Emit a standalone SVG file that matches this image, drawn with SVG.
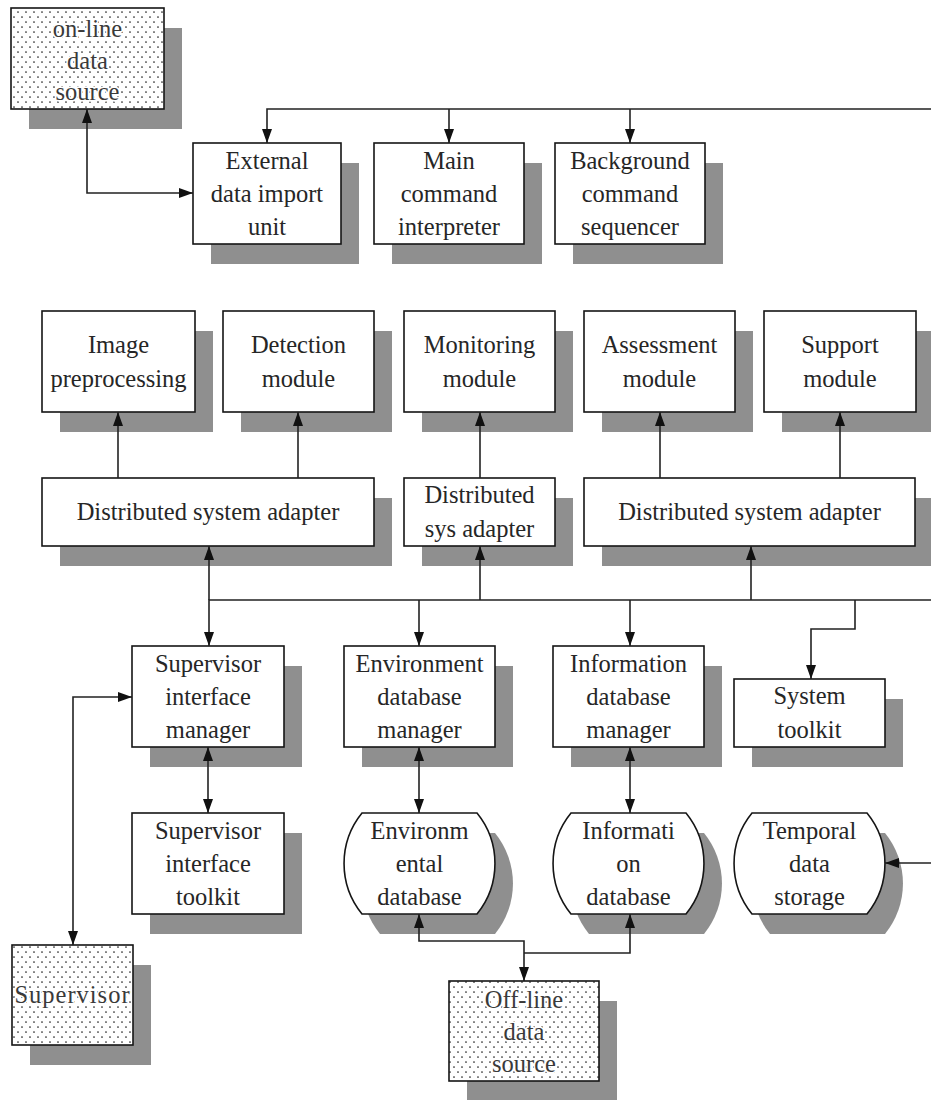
<svg xmlns="http://www.w3.org/2000/svg" width="931" height="1100" viewBox="0 0 931 1100">
  <defs>
    <style>
      .shadow { fill: #8f8f8f; }
      .box { fill: #ffffff; stroke: #151515; stroke-width: 1.6; }
      .dotbox { fill: url(#dots); stroke: #151515; stroke-width: 1.6; }
      text { font-family: "Liberation Serif", "Times New Roman", serif; font-size: 24.5px; fill: #262626; text-anchor: middle; }
      text.dtxt { fill: #3a3a3a; stroke: #ffffff; stroke-width: 3px; paint-order: stroke; stroke-linejoin: round; }
      .wire { fill: none; stroke: #222222; stroke-width: 1.6; }
      .to { marker-end: url(#arrow); }
      .both { marker-start: url(#arrow); marker-end: url(#arrow); }
      .from { marker-start: url(#arrow); }
    </style>
    <pattern id="dots" width="8" height="10" patternUnits="userSpaceOnUse">
      <rect width="8" height="10" fill="#ffffff"/>
      <circle cx="2" cy="2" r="0.85" fill="#222"/>
      <circle cx="6" cy="7" r="0.85" fill="#222"/>
    </pattern>
    <marker id="arrow" viewBox="0 0 14 10" refX="14" refY="5" markerWidth="14" markerHeight="10" markerUnits="userSpaceOnUse" orient="auto-start-reverse">
      <path d="M0,0 L14,5 L0,10 Z" fill="#111111"/>
    </marker>
  </defs>

  <rect width="931" height="1100" fill="#ffffff"/>

  <!-- external sources -->
  <g id="online-source">
    <rect class="shadow" x="29" y="28" width="153" height="101"/>
    <rect class="dotbox" x="11" y="8" width="153" height="101"/>
    <text class="dtxt" x="87.5" y="37">on-line</text>
    <text class="dtxt" x="87.5" y="69">data</text>
    <text class="dtxt" x="87.5" y="100">source</text>
  </g>

  <!-- command layer -->
  <g id="external-import">
    <rect class="shadow" x="211" y="163" width="148" height="101"/>
    <rect class="box" x="193" y="143" width="148" height="101"/>
    <text x="267" y="169">External</text>
    <text x="267" y="202">data import</text>
    <text x="267" y="235">unit</text>
  </g>
  <g id="main-interpreter">
    <rect class="shadow" x="392" y="163" width="150" height="101"/>
    <rect class="box" x="374" y="143" width="150" height="101"/>
    <text x="449" y="169">Main</text>
    <text x="449" y="202">command</text>
    <text x="449" y="235">interpreter</text>
  </g>
  <g id="background-sequencer">
    <rect class="shadow" x="573" y="163" width="150" height="101"/>
    <rect class="box" x="555" y="143" width="150" height="101"/>
    <text x="630" y="169">Background</text>
    <text x="630" y="202">command</text>
    <text x="630" y="235">sequencer</text>
  </g>

  <!-- processing modules -->
  <g id="image-preprocessing">
    <rect class="shadow" x="60" y="331" width="153" height="101"/>
    <rect class="box" x="42" y="311" width="153" height="101"/>
    <text x="118.5" y="353">Image</text>
    <text x="118.5" y="387">preprocessing</text>
  </g>
  <g id="detection-module">
    <rect class="shadow" x="241" y="331" width="151" height="101"/>
    <rect class="box" x="223" y="311" width="151" height="101"/>
    <text x="298.5" y="353">Detection</text>
    <text x="298.5" y="387">module</text>
  </g>
  <g id="monitoring-module">
    <rect class="shadow" x="422" y="331" width="151" height="101"/>
    <rect class="box" x="404" y="311" width="151" height="101"/>
    <text x="479.5" y="353">Monitoring</text>
    <text x="479.5" y="387">module</text>
  </g>
  <g id="assessment-module">
    <rect class="shadow" x="602" y="331" width="151" height="101"/>
    <rect class="box" x="584" y="311" width="151" height="101"/>
    <text x="659.5" y="353">Assessment</text>
    <text x="659.5" y="387">module</text>
  </g>
  <g id="support-module">
    <rect class="shadow" x="782" y="331" width="152" height="101"/>
    <rect class="box" x="764" y="311" width="152" height="101"/>
    <text x="840" y="353">Support</text>
    <text x="840" y="387">module</text>
  </g>

  <!-- adapters -->
  <g id="adapter-left">
    <rect class="shadow" x="60" y="498" width="332" height="68"/>
    <rect class="box" x="42" y="478" width="332" height="68"/>
    <text x="208" y="520">Distributed system adapter</text>
  </g>
  <g id="adapter-middle">
    <rect class="shadow" x="422" y="498" width="151" height="68"/>
    <rect class="box" x="404" y="478" width="151" height="68"/>
    <text x="479.5" y="503">Distributed</text>
    <text x="479.5" y="537">sys adapter</text>
  </g>
  <g id="adapter-right">
    <rect class="shadow" x="602" y="498" width="331" height="68"/>
    <rect class="box" x="584" y="478" width="331" height="68"/>
    <text x="749.5" y="520">Distributed system adapter</text>
  </g>

  <!-- managers -->
  <g id="supervisor-interface-manager">
    <rect class="shadow" x="150" y="666" width="152" height="101"/>
    <rect class="box" x="132" y="646" width="152" height="101"/>
    <text x="208" y="672">Supervisor</text>
    <text x="208" y="705">interface</text>
    <text x="208" y="738">manager</text>
  </g>
  <g id="environment-db-manager">
    <rect class="shadow" x="362" y="666" width="151" height="101"/>
    <rect class="box" x="344" y="646" width="151" height="101"/>
    <text x="419.5" y="672">Environment</text>
    <text x="419.5" y="705">database</text>
    <text x="419.5" y="738">manager</text>
  </g>
  <g id="information-db-manager">
    <rect class="shadow" x="571" y="666" width="151" height="101"/>
    <rect class="box" x="553" y="646" width="151" height="101"/>
    <text x="628.5" y="672">Information</text>
    <text x="628.5" y="705">database</text>
    <text x="628.5" y="738">manager</text>
  </g>
  <g id="system-toolkit">
    <rect class="shadow" x="752" y="699" width="151" height="68"/>
    <rect class="box" x="734" y="679" width="151" height="68"/>
    <text x="809.5" y="704">System</text>
    <text x="809.5" y="738">toolkit</text>
  </g>

  <!-- toolkit and stores -->
  <g id="supervisor-interface-toolkit">
    <rect class="shadow" x="150" y="833" width="152" height="101"/>
    <rect class="box" x="132" y="813" width="152" height="101"/>
    <text x="208" y="839">Supervisor</text>
    <text x="208" y="872">interface</text>
    <text x="208" y="905">toolkit</text>
  </g>
  <g id="environmental-database">
    <path class="shadow" d="M380,833 H495 A80,80 0 0 1 495,934 H380 A80,80 0 0 1 380,833 Z"/>
    <path class="box" d="M362,813 H477 A80,80 0 0 1 477,914 H362 A80,80 0 0 1 362,813 Z"/>
    <text x="419.5" y="839">Environm</text>
    <text x="419.5" y="872">ental</text>
    <text x="419.5" y="905">database</text>
  </g>
  <g id="information-database">
    <path class="shadow" d="M589,833 H704 A80,80 0 0 1 704,934 H589 A80,80 0 0 1 589,833 Z"/>
    <path class="box" d="M571,813 H686 A80,80 0 0 1 686,914 H571 A80,80 0 0 1 571,813 Z"/>
    <text x="628.5" y="839">Informati</text>
    <text x="628.5" y="872">on</text>
    <text x="628.5" y="905">database</text>
  </g>
  <g id="temporal-storage">
    <path class="shadow" d="M770,833 H885 A80,80 0 0 1 885,934 H770 A80,80 0 0 1 770,833 Z"/>
    <path class="box" d="M752,813 H867 A80,80 0 0 1 867,914 H752 A80,80 0 0 1 752,813 Z"/>
    <text x="809.5" y="839">Temporal</text>
    <text x="809.5" y="872">data</text>
    <text x="809.5" y="905">storage</text>
  </g>

  <g id="supervisor">
    <rect class="shadow" x="30" y="965" width="121" height="100"/>
    <rect class="dotbox" x="12" y="945" width="121" height="100"/>
    <text class="dtxt" x="72.5" y="1003" letter-spacing="1">Supervisor</text>
  </g>
  <g id="offline-source">
    <rect class="shadow" x="467" y="1001" width="150" height="100"/>
    <rect class="dotbox" x="449" y="981" width="150" height="100"/>
    <text class="dtxt" x="524" y="1008">Off-line</text>
    <text class="dtxt" x="524" y="1040">data</text>
    <text class="dtxt" x="524" y="1072">source</text>
  </g>

  <g id="connectors">
    <!-- command bus -->
    <path class="wire to" d="M931,109 H267 V143"/>
    <path class="wire to" d="M449,109 V143"/>
    <path class="wire to" d="M630,109 V143"/>
    <path class="wire both" d="M87,109 V193 H193"/>
    <!-- adapters to modules -->
    <path class="wire to" d="M118,478 V412"/>
    <path class="wire to" d="M298,478 V412"/>
    <path class="wire to" d="M480,478 V412"/>
    <path class="wire to" d="M660,478 V412"/>
    <path class="wire to" d="M840,478 V412"/>
    <!-- system bus -->
    <path class="wire to" d="M931,600 H209 V646"/>
    <path class="wire to" d="M209,600 V546"/>
    <path class="wire to" d="M480,600 V546"/>
    <path class="wire to" d="M751,600 V546"/>
    <path class="wire to" d="M419,600 V646"/>
    <path class="wire to" d="M630,600 V646"/>
    <path class="wire to" d="M855,600 V629 H811 V679"/>
    <!-- managers to stores -->
    <path class="wire both" d="M208,747 V813"/>
    <path class="wire both" d="M419,747 V813"/>
    <path class="wire both" d="M630,747 V813"/>
    <path class="wire both" d="M132,697 H73 V945"/>
    <path class="wire to" d="M931,863 H885"/>
    <!-- stores to off-line source -->
    <path class="wire both" d="M419,914 V941 H524 V981"/>
    <path class="wire from" d="M630,914 V953 H524"/>
  </g>
</svg>
